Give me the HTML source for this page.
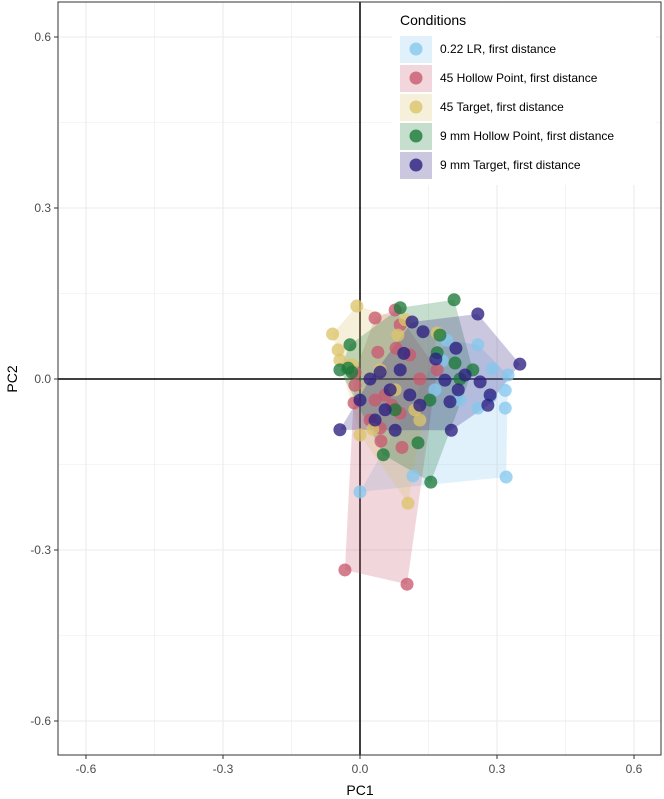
<!DOCTYPE html>
<html><head><meta charset="utf-8"><style>
body{margin:0;background:#fff;font-family:"Liberation Sans",sans-serif}
svg{display:block}
</style></head><body>
<svg id="chart" width="664" height="799" font-family="Liberation Sans, sans-serif"></svg>
<script>
const groupNames=["0.22 LR, first distance","45 Hollow Point, first distance","45 Target, first distance","9 mm Hollow Point, first distance","9 mm Target, first distance"];
const groupColors=["#86c8ee","#c85a6e","#dcc46c","#1c7a3a","#2b1f80"];
const xTicks=[-0.6,-0.3,0.0,0.3,0.6];
const yTicks=[-0.6,-0.3,0.0,0.3,0.6];
const g0x=[0,0.32,0.318,0.258,0.324,0.29,0.258,0.18,0.116,0.285,0.318,0.219,0.164,0.171,0.19];
const g0y=[-0.198,-0.172,-0.051,-0.051,0.007,0.018,0.06,0.032,-0.17,-0.032,-0.02,-0.037,-0.019,0.039,0.068];
const g1x=[-0.033,0.103,0.033,0.077,0.088,-0.011,-0.013,-0.011,0.044,0.046,0.092,0.088,0.039,0.079,0.131,0.109,0.055,0.169,0.033,0.07,0.022];
const g1y=[-0.335,-0.36,0.107,0.121,0.095,-0.011,-0.042,0.012,-0.086,-0.109,-0.12,-0.06,0.047,0.054,0,0.042,-0.028,0.016,-0.037,-0.046,-0.072];
const g2x=[-0.007,-0.06,-0.044,-0.048,-0.018,0,0.105,0.099,0.169,0.083,0.044,0.077,0.12,0.028,0.131];
const g2y=[0.128,0.079,0.033,0.051,0.025,-0.098,-0.218,0.104,0.081,0.077,0.016,-0.019,-0.054,-0.088,-0.072];
const g3x=[0.088,0.206,0.155,-0.018,-0.026,-0.022,0.051,0.127,0.169,0.175,0.247,0.219,0.208,0.077,0.153,-0.044];
const g3y=[0.125,0.139,-0.181,0.012,0.019,0.06,-0.133,-0.112,0.046,0.077,0.016,0,0.028,-0.054,-0.037,0.016];
const g4x=[-0.044,0.258,0.35,0.2,0.114,0.138,0.21,0.23,0.263,0.285,0.28,0.197,0.186,0.215,0.088,0.044,0.066,0.109,0.131,0.055,0.033,0.077,0,0.022,0.166,0.096];
const g4y=[-0.089,0.114,0.026,-0.09,0.1,0.083,0.054,0.007,-0.005,-0.028,-0.046,-0.04,-0.002,-0.019,0.016,0.012,-0.019,-0.028,-0.046,-0.054,-0.072,-0.09,-0.037,0,0.035,0.045];
const GX=[g0x,g1x,g2x,g3x,g4x], GY=[g0y,g1y,g2y,g3y,g4y];
const L=58,R=661,T=2,B=755;
const sx=v=>360+v*456.7, sy=v=>379-v*570;
const NS="http://www.w3.org/2000/svg", svg=document.getElementById('chart');
function el(t,a,p){const e=document.createElementNS(NS,t);for(const k in a)e.setAttribute(k,a[k]);(p||svg).appendChild(e);return e;}
el('rect',{x:L,y:T,width:R-L,height:B-T,fill:'#fff'});
const grid=el('g',{});


for(let v=-0.75;v<=0.76;v+=0.15){
 const isMaj=xTicks.some(t=>Math.abs(t-v)<1e-6);
 const w=isMaj?1.1:0.6;
 if(sx(v)>L&&sx(v)<R) el('line',{x1:sx(v),x2:sx(v),y1:T,y2:B,stroke:'#ebebeb','stroke-width':w},grid);
 if(sy(v)>T&&sy(v)<B) el('line',{x1:L,x2:R,y1:sy(v),y2:sy(v),stroke:'#ebebeb','stroke-width':w},grid);}
el('line',{x1:sx(0),x2:sx(0),y1:T,y2:B,stroke:'#000','stroke-width':1.5});
el('line',{x1:L,x2:R,y1:sy(0),y2:sy(0),stroke:'#000','stroke-width':1.5});
function hull(pts){pts=pts.slice().sort((a,b)=>a[0]-b[0]||a[1]-b[1]);const c=(o,a,b)=>(a[0]-o[0])*(b[1]-o[1])-(a[1]-o[1])*(b[0]-o[0]);
 const lo=[],up=[];for(const p of pts){while(lo.length>=2&&c(lo[lo.length-2],lo[lo.length-1],p)<=0)lo.pop();lo.push(p);}
 for(const p of pts.slice().reverse()){while(up.length>=2&&c(up[up.length-2],up[up.length-1],p)<=0)up.pop();up.push(p);}
 return lo.slice(0,-1).concat(up.slice(0,-1));}
for(let g=0;g<5;g++){const pts=GX[g].map((x,i)=>[sx(x),sy(GY[g][i])]);
 const p=el('polygon',{points:hull(pts).map(q=>q.join(',')).join(' '),fill:groupColors[g],'fill-opacity':0.25});
 
 }
for(let g=0;g<5;g++){for(let i=0;i<GX[g].length;i++){
 const c=el('circle',{cx:sx(GX[g][i]),cy:sy(GY[g][i]),r:6.5,fill:groupColors[g],'fill-opacity':0.78});
 
 }}
el('rect',{x:L,y:T,width:R-L,height:B-T,fill:'none',stroke:'#333','stroke-width':1});
xTicks.forEach(v=>{el('line',{x1:sx(v),x2:sx(v),y1:B,y2:B+4,stroke:'#333'});
 const t=el('text',{x:sx(v),y:B+18,'text-anchor':'middle','font-size':12,fill:'#4d4d4d'});t.textContent=v.toFixed(1);
 });
yTicks.forEach(v=>{el('line',{x1:L-4,x2:L,y1:sy(v),y2:sy(v),stroke:'#333'});
 const t=el('text',{x:L-7,y:sy(v)+4,'text-anchor':'end','font-size':12,fill:'#4d4d4d'});t.textContent=v.toFixed(1);
 });
const xt=el('text',{x:360,y:795,'text-anchor':'middle','font-size':14});xt.textContent='PC1';

const yt=el('text',{x:0,y:0,'text-anchor':'middle','font-size':14,transform:'translate(17,379) rotate(-90)'});yt.textContent='PC2';

const lg=el('g',{});


el('rect',{x:392,y:3,width:264,height:182,fill:'#fff'},lg);
const lt=el('text',{x:400,y:25,'font-size':14},lg);lt.textContent='Conditions';
for(let g=0;g<5;g++){const y=49+g*29;
 const e=el('g',{},lg);
 
 
 el('rect',{x:400,y:y-13,width:32,height:27,fill:groupColors[g],'fill-opacity':0.25},e);
 el('circle',{cx:416,cy:y,r:6.5,fill:groupColors[g],'fill-opacity':0.8},e);
 const t=el('text',{x:440,y:y+4,'font-size':12,fill:'#000'},e);t.textContent=groupNames[g];}
</script>
</body></html>
